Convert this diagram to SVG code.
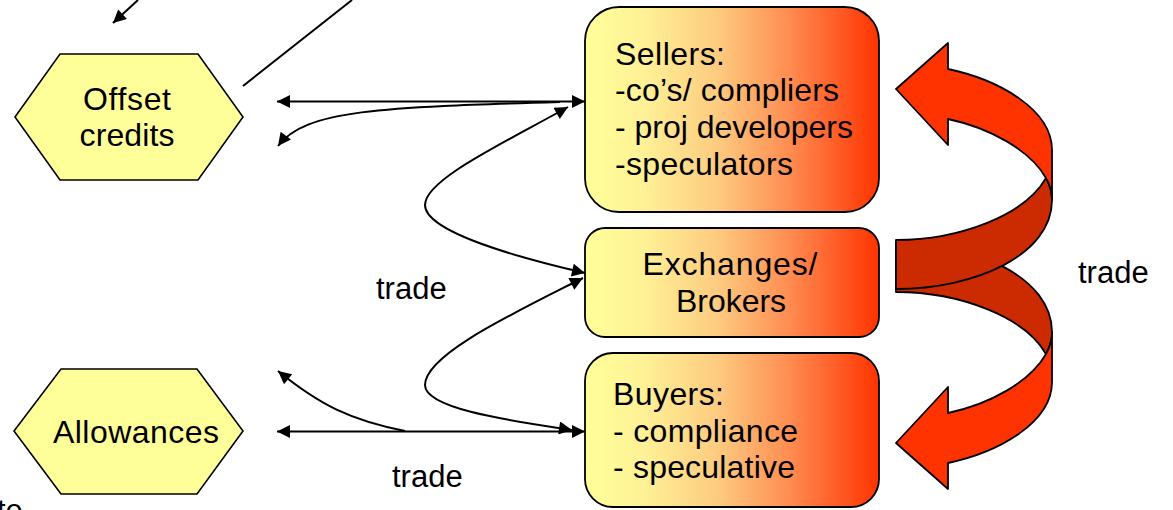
<svg xmlns="http://www.w3.org/2000/svg" width="1173" height="510" viewBox="0 0 1173 510">
  <style>
    .txt { font-family: "Liberation Sans", Arial, sans-serif; font-size: 32px; fill: #000; }
    .lbl { font-family: "Liberation Sans", Arial, sans-serif; font-size: 31px; fill: #000; }
    .hex { fill: #FFFF99; stroke: #000; stroke-width: 1.6; }
    .box { fill: url(#warm); stroke: #000; stroke-width: 1.8; }
    .con { fill: none; stroke: #000; stroke-width: 2; }
    .ribbon-front { fill: #FF3300; stroke: #000; stroke-width: 1.8; stroke-linejoin: round; }
    .ribbon-back { fill: #CC2A00; stroke: #000; stroke-width: 1.8; stroke-linejoin: round; }
  </style>
  <defs>
    <linearGradient id="warm" x1="0" y1="0" x2="1" y2="0">
      <stop offset="0" stop-color="#FFFF99"/>
      <stop offset="0.2" stop-color="#FFF196"/>
      <stop offset="0.45" stop-color="#FDCB80"/>
      <stop offset="0.7" stop-color="#FF8B50"/>
      <stop offset="1" stop-color="#FF3300"/>
    </linearGradient>
    <marker id="ah" viewBox="0 0 10 10" refX="10" refY="5" markerUnits="userSpaceOnUse" markerWidth="16" markerHeight="13" orient="auto-start-reverse">
      <path d="M0,0 L10,5 L0,10 z" fill="#000"/>
    </marker>
    <!-- curved left arrow: back (tail) band and front band with head -->
    <g id="curl">
      <path class="ribbon-back" d="M896,240 C960,240 1025,215 1046,178 C1050,185 1052,192 1052,200 C1052,255 975,289 896,289 Z"/>
      <path class="ribbon-front" d="M948,69 C1000,80 1052,110 1052,150 L1052,200 C1052,192 1050,185 1046,178 C1030,150 990,128 948,119 L948,145 L896,89 L948,43 Z"/>
    </g>
  </defs>

  <g id="connectors">
    <path class="con" d="M138,0 L113,23" marker-end="url(#ah)"/>
    <path class="con" d="M352,0 L243,86"/>
    <path class="con" d="M277,101.5 L585,101.5" marker-start="url(#ah)" marker-end="url(#ah)"/>
    <path class="con" d="M560,102 C380,107 305,110 278,146" marker-end="url(#ah)"/>
    <path class="con" d="M568,107 C500,145 425,180 425,205 C425,232 520,258 585,273" marker-start="url(#ah)" marker-end="url(#ah)"/>
    <path class="con" d="M583,278 C510,315 425,355 425,385 C425,410 520,422 572,430" marker-start="url(#ah)" marker-end="url(#ah)"/>
    <path class="con" d="M277,431.5 L585,431.5" marker-start="url(#ah)" marker-end="url(#ah)"/>
    <path class="con" d="M405,431 C350,420 320,405 278,371" marker-end="url(#ah)"/>
  </g>

  <g id="offset-credits">
    <polygon class="hex" points="15,117 60,54 198,54 243,117 198,180 60,180"/>
    <text class="txt" x="127" y="110" text-anchor="middle" textLength="88">Offset</text>
    <text class="txt" x="127" y="146" text-anchor="middle" textLength="95">credits</text>
  </g>

  <g id="allowances">
    <polygon class="hex" points="14,431 61,369 197,369 243,431 197,494 61,494"/>
    <text class="txt" x="136" y="443" text-anchor="middle" textLength="166">Allowances</text>
  </g>

  <g id="sellers">
    <rect class="box" x="585" y="7" width="294" height="205" rx="34" ry="34"/>
    <text class="txt" x="615" y="65" textLength="110">Sellers:</text>
    <text class="txt" x="615" y="101" textLength="224">-co’s/ compliers</text>
    <text class="txt" x="615" y="138" textLength="238">- proj developers</text>
    <text class="txt" x="615" y="175" textLength="178">-speculators</text>
  </g>

  <g id="exchanges">
    <rect class="box" x="585" y="228" width="294" height="109" rx="20" ry="20"/>
    <text class="txt" x="730" y="275" text-anchor="middle" textLength="175">Exchanges/</text>
    <text class="txt" x="731" y="312" text-anchor="middle" textLength="110">Brokers</text>
  </g>

  <g id="buyers">
    <rect class="box" x="585" y="353" width="294" height="154" rx="28" ry="28"/>
    <text class="txt" x="613" y="405" textLength="111">Buyers:</text>
    <text class="txt" x="613" y="442" textLength="185">- compliance</text>
    <text class="txt" x="613" y="478" textLength="182">- speculative</text>
  </g>

  <g id="trade-cycle">
    <use href="#curl" transform="matrix(1 0 0 -1 0 532)"/>
    <use href="#curl"/>
  </g>

  <g id="labels">
    <text class="lbl" x="376" y="299">trade</text>
    <text class="lbl" x="392" y="487">trade</text>
    <text class="lbl" x="1078" y="283">trade</text>
    <text class="lbl" x="-3" y="521">te</text>
  </g>
</svg>
